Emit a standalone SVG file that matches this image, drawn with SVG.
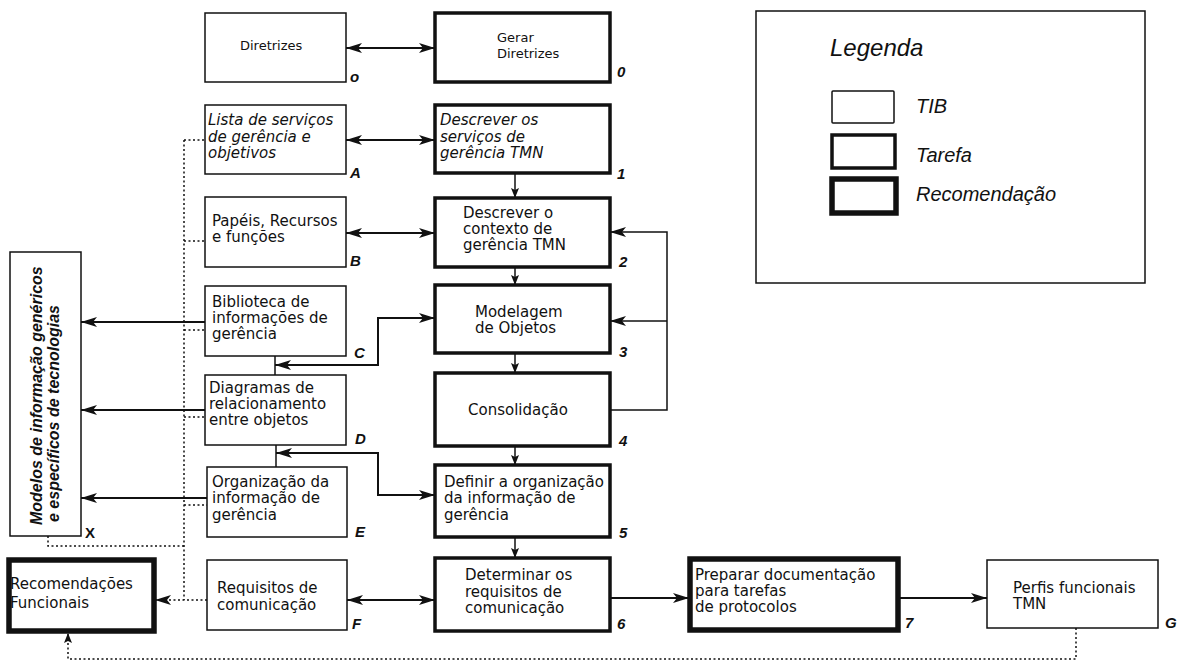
<svg xmlns="http://www.w3.org/2000/svg" width="1186" height="664" viewBox="0 0 1186 664">
<style>
text{font-family:"DejaVu Sans","Liberation Sans",Arial,sans-serif;font-size:15px;fill:#111}
.it{font-style:italic}
.sm{font-size:13px}
.lb{font-family:"Liberation Sans",Arial,sans-serif;font-style:italic;font-weight:bold;font-size:15px}
.vt{font-family:"Liberation Sans",Arial,sans-serif;font-style:italic;font-weight:bold;font-size:16px}
.tib{fill:#fff;stroke:#111;stroke-width:1.5}
.task{fill:#fff;stroke:#111;stroke-width:3.5}
.rec{fill:#fff;stroke:#111;stroke-width:5.5}
.c{fill:none;stroke:#111;stroke-width:2}
.cs{fill:none;stroke:#111;stroke-width:1.5}
.d{fill:none;stroke:#111;stroke-width:1.5;stroke-dasharray:2,2.5}
.leg{font-family:"Liberation Sans",Arial,sans-serif;font-style:italic;font-size:20px}
</style>
<defs>
<marker id="arr" viewBox="0 0 16 10" refX="16" refY="5" markerWidth="16" markerHeight="10" markerUnits="userSpaceOnUse" orient="auto-start-reverse">
<path d="M0,0 L16,5 L0,10 L4,5 z" fill="#111"/>
</marker>
<marker id="arrs" viewBox="0 0 10 8" refX="10" refY="4" markerWidth="10" markerHeight="8" markerUnits="userSpaceOnUse" orient="auto-start-reverse">
<path d="M0,0 L10,4 L0,8 L2,4 z" fill="#111"/>
</marker>
</defs>
<rect width="1186" height="664" fill="#fff"/>

<g id="connectors">
<path class="c" d="M346,48 H435" marker-start="url(#arr)" marker-end="url(#arr)"/>
<path class="c" d="M346,140 H435" marker-start="url(#arr)" marker-end="url(#arr)"/>
<path class="c" d="M346,233 H435" marker-start="url(#arr)" marker-end="url(#arr)"/>
<path class="cs" d="M275,356 V375"/>
<path class="c" d="M275,365 H378 V318 H435" marker-start="url(#arr)" marker-end="url(#arr)"/>
<path class="cs" d="M276,445 V467"/>
<path class="c" d="M276,453 H378 V495 H435" marker-start="url(#arr)" marker-end="url(#arr)"/>
<path class="c" d="M347,600 H435" marker-start="url(#arr)" marker-end="url(#arr)"/>
<path class="c" d="M610,598 H689" marker-end="url(#arr)"/>
<path class="c" d="M898,598 H987" marker-end="url(#arr)"/>
<path class="cs" d="M515,173 V198" marker-end="url(#arrs)"/>
<path class="cs" d="M515,267 V285" marker-end="url(#arrs)"/>
<path class="cs" d="M515,353 V373" marker-end="url(#arrs)"/>
<path class="cs" d="M515,446 V465" marker-end="url(#arrs)"/>
<path class="cs" d="M515,537 V558" marker-end="url(#arrs)"/>
<path class="cs" d="M610,410 H667 V232 H610" marker-end="url(#arr)"/>
<path class="cs" d="M667,321 H610" marker-end="url(#arr)"/>
<path class="c" d="M205,322 H81" marker-end="url(#arr)"/>
<path class="c" d="M205,410 H81" marker-end="url(#arr)"/>
<path class="c" d="M207,498 H81" marker-end="url(#arr)"/>
<path class="d" d="M184,140 V600"/>
<path class="d" d="M184,140 H205 M184,241 H205 M184,330 H205 M184,417 H205 M184,505 H207"/>
<path class="d" d="M207,600 H155" marker-end="url(#arr)"/>
<path class="d" d="M48,536 V546 H184"/>
<path class="d" d="M1076,628 V659 H68 V633" marker-end="url(#arrs)"/>
</g>

<g id="n-diretrizes">
<rect class="tib" x="205" y="13" width="141" height="69"/>
<text class="sm" x="240" y="50">Diretrizes</text>
<text class="lb" x="350" y="82">o</text>
</g>
<g id="n-0">
<rect class="task" x="435" y="13" width="175" height="69"/>
<text class="sm" x="497" y="42">Gerar</text>
<text class="sm" x="497" y="58">Diretrizes</text>
<text class="lb" x="617" y="77">0</text>
</g>
<g id="n-A">
<rect class="tib" x="205" y="105" width="141" height="69"/>
<text class="it" x="208" y="125">Lista de serviços</text>
<text class="it" x="208" y="142">de gerência e</text>
<text class="it" x="208" y="158">objetivos</text>
<text class="lb" x="350" y="178">A</text>
</g>
<g id="n-1">
<rect class="task" x="435" y="105" width="175" height="68"/>
<text class="it" x="440" y="125">Descrever os</text>
<text class="it" x="440" y="142">serviços de</text>
<text class="it" x="440" y="158">gerência TMN</text>
<text class="lb" x="617" y="179">1</text>
</g>
<g id="n-B">
<rect class="tib" x="205" y="197" width="141" height="70"/>
<text x="212" y="226">Papéis, Recursos</text>
<text x="212" y="242">e funções</text>
<text class="lb" x="350" y="266">B</text>
</g>
<g id="n-2">
<rect class="task" x="435" y="198" width="175" height="69"/>
<text x="463" y="218">Descrever o</text>
<text x="463" y="234">contexto de</text>
<text x="463" y="250">gerência TMN</text>
<text class="lb" x="619" y="267">2</text>
</g>
<g id="n-C">
<rect class="tib" x="205" y="286" width="141" height="70"/>
<text x="212" y="307">Biblioteca de</text>
<text x="212" y="323">informações de</text>
<text x="212" y="339">gerência</text>
<text class="lb" x="354" y="358">C</text>
</g>
<g id="n-3">
<rect class="task" x="435" y="285" width="175" height="68"/>
<text x="475" y="317">Modelagem</text>
<text x="475" y="333">de Objetos</text>
<text class="lb" x="619" y="357">3</text>
</g>
<g id="n-D">
<rect class="tib" x="205" y="375" width="141" height="70"/>
<text x="209" y="393">Diagramas de</text>
<text x="209" y="409">relacionamento</text>
<text x="209" y="425">entre objetos</text>
<text class="lb" x="355" y="444">D</text>
</g>
<g id="n-4">
<rect class="task" x="435" y="373" width="175" height="73"/>
<text x="468" y="415">Consolidação</text>
<text class="lb" x="619" y="446">4</text>
</g>
<g id="n-E">
<rect class="tib" x="207" y="467" width="140" height="70"/>
<text x="212" y="487">Organização da</text>
<text x="212" y="503">informação de</text>
<text x="212" y="520">gerência</text>
<text class="lb" x="355" y="537">E</text>
</g>
<g id="n-5">
<rect class="task" x="435" y="465" width="175" height="72"/>
<text x="444" y="487">Definir a organização</text>
<text x="444" y="503">da informação de</text>
<text x="444" y="520">gerência</text>
<text class="lb" x="619" y="538">5</text>
</g>
<g id="n-F">
<rect class="tib" x="207" y="560" width="140" height="70"/>
<text x="217" y="593">Requisitos de</text>
<text x="217" y="610">comunicação</text>
<text class="lb" x="352" y="629">F</text>
</g>
<g id="n-6">
<rect class="task" x="435" y="558" width="175" height="73"/>
<text x="465" y="580">Determinar os</text>
<text x="465" y="597">requisitos de</text>
<text x="465" y="613">comunicação</text>
<text class="lb" x="617" y="629">6</text>
</g>
<g id="n-7">
<rect class="rec" x="690" y="559" width="208" height="71"/>
<text x="695" y="580">Preparar documentação</text>
<text x="695" y="596">para tarefas</text>
<text x="695" y="612">de protocolos</text>
<text class="lb" x="905" y="628">7</text>
</g>
<g id="n-G">
<rect class="tib" x="987" y="560" width="171" height="68"/>
<text x="1013" y="593">Perfis funcionais</text>
<text x="1013" y="609">TMN</text>
<text class="lb" x="1165" y="628">G</text>
</g>
<g id="n-X">
<rect class="tib" x="10" y="252" width="71" height="284"/>
<text class="vt" transform="translate(42,525) rotate(-90)">Modelos de informação genéricos</text>
<text class="vt" transform="translate(59,522) rotate(-90)">e específicos de tecnologias</text>
<text style="font-family:'Liberation Sans',Arial,sans-serif;font-weight:bold;font-size:15px" x="85" y="538">X</text>
</g>
<g id="n-recfunc">
<rect class="rec" x="9" y="560" width="145" height="71"/>
<text x="10" y="589">Recomendações</text>
<text x="10" y="608">Funcionais</text>
</g>
<g id="legend">
<rect class="tib" x="756" y="11" width="389" height="272"/>
<text style="font-family:'Liberation Sans',Arial,sans-serif;font-style:italic;font-size:24px" x="830" y="56">Legenda</text>
<rect class="tib" x="832" y="91" width="62" height="32" rx="1"/>
<text class="leg" x="916" y="113">TIB</text>
<rect class="task" x="832" y="135" width="63" height="33"/>
<text class="leg" x="916" y="162">Tarefa</text>
<rect class="rec" x="832" y="179" width="64" height="34"/>
<text class="leg" x="916" y="201">Recomendação</text>
</g>
</svg>
